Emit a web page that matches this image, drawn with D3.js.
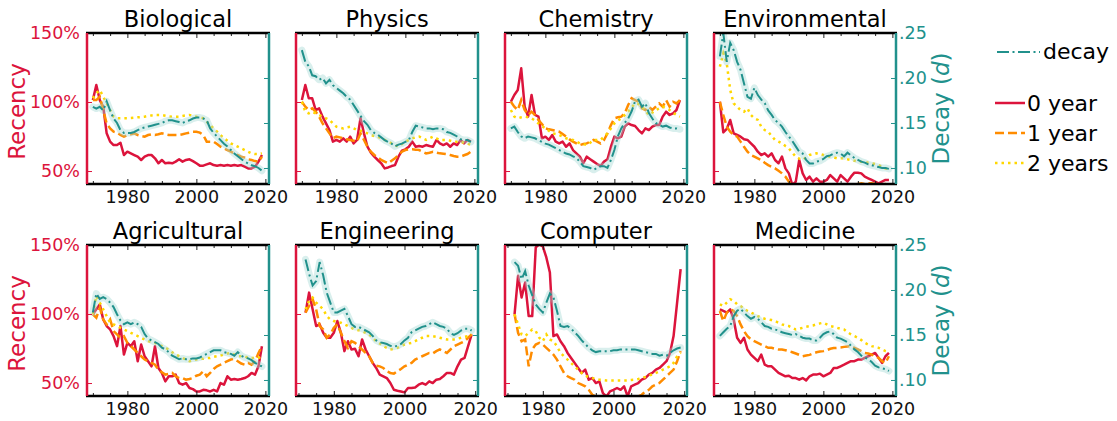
<!DOCTYPE html>
<html>
<head>
<meta charset="utf-8">
<script src="https://cdn.jsdelivr.net/npm/d3@7/dist/d3.min.js"></script>
<style>
  body { margin: 0; background: #fff; }
  text { font-family: "DejaVu Sans", sans-serif; }
</style>
</head>
<body>
<script>
// fields, in panel order (4 per row)
var fields = ["Biological", "Physics", "Chemistry", "Environmental",
              "Agricultural", "Engineering", "Computer", "Medicine"];

// first year of each field's series (all end in 2019)
var startYear = {
  Biological: 1970, Physics: 1970, Chemistry: 1970, Environmental: 1970,
  Agricultural: 1970, Engineering: 1972, Computer: 1972, Medicine: 1970
};

// recency (%) for references 0 year old
var zeroYear = {
  Biological: [101.4,112.3,101.4,96.6,77.3,71.3,68.8,68.8,70.5,61.6, 64.0,62.8,61.6,60.4,58.0,60.4,61.6,61.6,59.2,55.6, 58.0,55.6,56.0,55.6,56.8,58.5,56.8,58.0,58.5,57.2, 55.6,53.9,53.9,54.8,55.6,54.3,53.9,54.3,53.9,54.3, 53.9,54.3,53.9,54.3,53.1,51.9,51.9,53.1,56.8,61.6],
  Physics: [101.4,112.3,102.7,102.7,94.2,95.4,89.4,84.5,79.7,71.3, 72.5,71.3,73.7,71.3,74.9,70.0,72.5,88.2,77.3,67.6, 63.3,60.4,58.0,55.6,51.9,52.6,53.6,54.3,60.4,64.7, 65.7,67.6,71.3,67.6,68.1,67.6,68.8,68.1,67.6,72.5, 70.0,68.8,70.0,67.6,70.0,68.8,72.5,70.0,72.5,71.3],
  Chemistry: [100.2,105.1,108.7,124.4,96.6,89.4,105.1,90.6,89.4,73.7, 74.9,72.5,76.1,71.3,70.0,71.3,67.6,70.0,65.2,62.8, 60.4,55.6,60.4,58.5,56.8,55.1,53.6,56.8,58.5,67.6, 74.9,73.7,74.9,82.1,84.5,83.3,82.6,79.7,77.3,80.9, 79.7,82.1,83.3,83.3,89.4,93.0,90.6,91.8,94.2,101.4],
  Environmental: [100.2,78.0,80.5,87.0,77.3,76.1,74.9,73.0,72.5,70.0, 67.6,64.0,61.6,62.8,60.4,62.8,58.0,55.6,60.4,51.9, 48.3,39.9,42.3,58.0,48.3,43.5,45.9,42.3,44.7,42.3, 42.3,43.5,47.1,44.7,42.3,47.1,44.7,42.3,45.9,48.8, 48.8,48.3,45.9,44.7,43.5,42.3,41.1,42.3,43.5,43.5],
  Agricultural: [99.8,103.4,107.0,96.1,91.3,88.8,84.0,76.7,91.3,70.6, 79.1,76.7,80.3,65.8,77.9,69.4,65.8,62.1,76.7,60.9, 57.3,51.2,54.9,54.9,56.1,50.0,48.8,50.0,46.4,45.6, 43.9,43.9,45.1,44.7,43.9,45.1,43.9,50.0,48.8,54.9, 52.4,52.9,52.4,52.9,53.6,54.9,57.3,56.1,62.1,76.7],
  Engineering: [101.0,115.5,103.4,91.3,92.5,86.4,82.8,82.8, 86.4,94.9,86.4,73.1,80.3,74.3,74.8,69.4,81.6,74.3, 69.4,64.6,60.9,56.1,54.9,53.6,50.0,45.1,44.4,43.9, 43.2,46.4,46.4,46.8,48.8,50.0,48.8,51.2,50.0,52.4, 52.9,54.9,57.3,57.3,56.1,62.1,67.0,68.2,76.7,85.2],
  Computer: [99.8,127.7,111.9,122.8,98.5,98.5,148.3,150.5, 149.0,141.0,130.1,84.0,85.2,80.3,76.7,71.8,68.2,64.6, 60.9,57.3,59.7,52.4,53.6,50.0,51.2,42.7,40.3,43.9, 45.1,46.4,45.1,47.6,40.3,47.6,48.8,50.0,52.4,53.6, 56.1,57.3,59.7,60.9,63.3,65.8,71.8,84.0,108.3,132.5],
  Medicine: [103.4,102.2,101.0,103.4,96.1,82.8,79.1,82.8,74.3,70.6, 68.2,65.8,70.6,63.3,62.1,62.1,59.7,57.3,56.1,54.9, 55.3,53.6,53.6,52.4,53.6,51.9,54.9,56.1,56.1,56.8, 54.9,56.1,57.3,60.9,60.9,62.1,63.3,64.6,65.8,65.8, 67.0,67.0,68.2,69.4,70.6,71.8,68.2,64.6,69.4,71.8]
};

// recency (%) for references 1 year old
var oneYear = {
  Biological: [101.4,101.4,103.9,94.2,84.5,80.9,78.5,77.8,76.1,74.9, 76.1,76.6,77.3,76.1,75.4,74.9,76.1,76.6,76.1,76.6, 77.3,76.6,76.1,76.1,76.1,76.1,76.6,77.3,77.8,78.5, 78.5,77.8,76.1,71.3,71.3,71.3,69.6,67.6,66.4,65.2, 64.0,62.8,61.6,60.4,59.7,58.5,58.0,57.2,56.8,60.4],
  Physics: [100.2,96.6,94.2,95.4,93.0,89.4,84.5,80.9,77.3,73.7, 74.9,74.4,73.7,73.0,72.5,72.0,71.3,77.3,72.5,67.6, 64.0,61.6,59.9,58.0,56.8,55.6,57.5,59.2,61.6,64.0, 65.2,65.7,65.7,65.5,65.2,64.0,62.8,63.3,64.0,63.3, 62.8,62.6,62.3,61.6,60.9,60.4,60.4,61.4,62.3,64.0],
  Chemistry: [100.2,96.6,94.2,101.4,94.2,90.6,93.0,90.6,87.0,84.1, 80.9,80.2,79.7,79.2,78.5,76.8,74.9,72.9,71.3,70.0, 68.8,69.6,70.0,71.3,72.5,71.3,70.0,72.5,77.3,83.3, 88.2,88.9,89.4,91.8,97.8,102.7,101.4,100.2,95.4,94.2, 96.6,94.2,96.6,99.0,96.6,101.4,96.6,100.2,99.0,101.4],
  Environmental: [100.2,90.6,82.1,78.5,76.1,74.9,71.3,67.6,64.0,61.6, 60.4,59.2,58.0,56.0,54.3,53.1,51.9,50.2,48.3,45.9, 42.3,38.6,37.4,37.4,37.4,38.6,38.2,37.4,37.4,38.2, 38.6,38.2,38.6,39.1,38.6,39.1,39.6,39.1,39.6,39.9, 40.6,41.1,40.6,41.1,41.1,40.6,39.9,40.3,40.6,39.9],
  Agricultural: [99.8,97.3,104.6,96.1,92.5,96.1,87.6,85.2,82.8,84.0, 79.1,76.7,74.3,71.8,69.4,67.0,65.8,64.6,63.3,59.7, 57.8,56.1,56.6,57.3,54.9,53.6,53.6,52.4,52.9,53.6, 55.3,56.1,58.5,54.9,57.3,60.2,62.1,63.3,64.6,65.8, 67.0,67.5,65.8,64.1,63.3,64.6,63.3,65.8,71.8,76.7],
  Engineering: [101.0,105.8,110.7,103.4,91.3,88.8,82.8,85.2, 90.0,92.5,86.4,80.3,75.5,80.3,79.1,76.7,74.3,71.8, 69.4,64.6,62.6,62.1,60.9,58.5,57.3,56.8,58.5,60.2, 62.1,63.3,64.6,67.0,68.2,69.4,70.6,71.8,71.4,73.1, 74.3,73.1,71.8,74.3,76.7,77.9,79.1,80.3,82.8,85.2],
  Computer: [99.8,86.4,80.3,81.6,62.1,74.3,77.9,79.1, 77.9,75.5,73.1,70.6,67.0,62.1,57.3,54.9,53.6,52.4, 50.0,48.8,47.6,45.1,41.5,40.3,39.1,38.3,37.9,37.9, 37.9,37.9,37.9,38.3,38.8,39.3,39.8,40.3,41.5,43.9, 45.1,47.6,48.8,50.0,52.4,54.9,57.3,59.7,65.8,73.1],
  Medicine: [102.2,94.9,101.0,103.4,102.2,98.5,92.5,87.6,84.0,81.6, 80.3,79.1,77.9,76.7,75.5,75.5,74.8,74.3,74.3,73.8, 73.1,72.3,71.4,70.4,69.4,69.9,70.4,71.4,72.3,72.8, 73.1,73.8,74.8,75.3,75.5,75.7,76.2,76.5,76.7,75.5, 74.3,73.1,71.8,71.4,70.6,69.4,68.2,65.8,64.6,69.4]
};

// recency (%) for references 2 years old
var twoYears = {
  Biological: [102.7,106.3,108.7,103.9,99.0,94.2,89.4,88.2,88.2,88.2, 88.2,88.4,88.6,88.9,89.1,89.4,89.9,90.3,90.6,90.6, 90.6,90.1,89.6,89.4,89.4,89.4,89.9,90.3,90.6,90.1, 89.4,88.9,88.2,85.7,83.3,80.9,78.5,76.1,73.7,72.0, 70.0,68.8,67.6,66.4,65.2,64.0,62.8,62.3,62.3,62.8],
  Physics: [100.2,93.0,91.8,93.0,91.8,90.6,89.4,88.2,87.0,84.5, 82.1,81.4,80.9,81.6,82.1,80.9,79.7,79.2,78.5,77.3, 76.1,75.4,74.9,73.7,72.5,71.3,70.0,68.8,67.6,69.6, 71.3,72.5,73.7,74.4,74.9,73.7,72.5,73.7,74.9,73.7, 72.5,72.5,72.5,72.0,71.3,71.3,71.3,70.5,70.0,68.8],
  Chemistry: [94.2,89.4,88.2,88.9,89.4,88.9,88.2,86.5,84.5,82.6, 80.9,79.2,77.3,76.8,76.1,74.9,73.7,73.0,72.5,71.3, 70.0,69.6,68.8,70.5,72.5,72.5,72.5,74.9,77.3,80.9, 84.5,86.5,88.2,90.6,93.0,96.1,99.0,98.5,96.6,93.7, 90.6,92.3,94.2,95.4,96.6,95.4,94.2,92.3,90.6,89.4],
  Environmental: [125.6,135.3,128.0,108.7,99.0,96.6,94.2,93.0,95.4,90.6, 88.2,87.0,82.1,79.7,78.5,75.4,72.5,71.3,70.0,68.1, 66.4,63.3,60.4,59.0,58.0,59.9,61.6,62.3,62.8,62.3, 61.6,60.9,60.4,59.9,59.2,59.2,59.2,58.5,58.0,57.5, 56.8,56.8,56.8,56.0,55.6,55.1,54.3,53.1,51.9,51.9],
  Agricultural: [99.8,113.1,108.3,103.4,98.5,93.7,92.5,91.3,90.0,88.8, 87.6,86.4,85.2,84.0,82.8,81.6,80.3,79.6,79.1,77.9, 76.7,75.5,74.3,72.3,70.6,69.4,68.2,67.0,65.8,66.5, 67.0,67.5,67.5,68.0,68.2,68.9,69.4,69.9,70.6,71.4, 71.8,70.6,69.4,69.4,69.4,68.2,68.2,68.2,68.2,69.4],
  Engineering: [103.4,109.5,111.9,108.3,105.8,103.4,98.5,96.1, 94.9,94.2,93.7,92.5,91.3,90.0,88.8,88.3,87.6,86.4, 85.2,82.8,80.3,78.6,76.7,75.5,74.3,74.8,75.5,76.7, 77.9,78.6,79.1,80.3,81.6,82.8,84.0,84.0,84.0,83.5, 82.8,82.1,81.6,81.6,81.6,82.1,82.8,83.5,84.0,85.2],
  Computer: [99.8,92.5,85.2,84.0,86.4,88.8,87.6,82.8, 80.3,85.2,81.6,80.3,76.7,71.8,69.4,67.0,64.6,62.1, 59.7,57.3,55.3,54.4,53.6,52.9,52.4,52.2,51.9,51.9, 51.9,51.9,51.9,51.9,51.9,52.2,52.4,52.9,53.6,54.4, 55.3,56.3,57.3,58.5,59.7,60.9,62.1,64.6,69.4,71.8],
  Medicine: [107.0,105.8,108.3,110.7,109.5,107.0,105.8,103.9,102.2,101.0, 99.8,98.5,97.3,96.6,96.1,95.6,94.9,93.7,92.5,91.7, 91.3,90.0,88.8,89.3,90.0,90.8,91.3,91.7,92.5,93.2, 93.7,92.5,91.3,90.8,90.0,89.3,88.8,86.9,85.2,84.0, 82.8,81.1,79.1,77.9,76.7,76.2,75.5,74.3,73.1,72.3]
};

// decay d (right axis)
var decay = {
  Biological: [.168,.166,.168,.164,.174,.164,.155,.150,.142,.139, .139,.139,.140,.142,.144,.145,.146,.147,.148,.149, .150,.152,.153,.153,.152,.151,.150,.152,.153,.155, .156,.156,.155,.153,.144,.139,.135,.131,.127,.124, .120,.116,.113,.110,.107,.105,.103,.102,.100,.097],
  Physics: [.231,.218,.213,.203,.202,.198,.200,.194,.198,.192, .189,.186,.183,.179,.176,.170,.164,.158,.152,.148, .142,.139,.137,.134,.131,.129,.127,.124,.126,.127, .129,.131,.140,.147,.146,.145,.144,.144,.143,.144, .144,.143,.140,.139,.137,.135,.132,.131,.131,.129],
  Chemistry: [.144,.146,.140,.135,.133,.135,.134,.133,.131,.129, .127,.126,.124,.122,.120,.118,.116,.115,.113,.111, .107,.102,.101,.100,.098,.100,.102,.102,.100,.109, .120,.135,.144,.150,.155,.163,.174,.176,.168,.172, .161,.155,.150,.148,.146,.147,.145,.144,.144,.143],
  Environmental: [.224,.250,.218,.239,.231,.218,.209,.194,.179,.177, .189,.181,.176,.172,.164,.159,.153,.150,.146,.140, .135,.130,.124,.118,.116,.109,.105,.105,.107,.108, .110,.113,.114,.116,.117,.116,.113,.117,.114,.111, .109,.107,.106,.104,.103,.102,.101,.100,.100,.099],
  Agricultural: [.175,.196,.190,.192,.190,.186,.181,.173,.166,.162, .164,.162,.164,.162,.159,.151,.146,.144,.142,.140, .136,.134,.131,.127,.125,.123,.124,.123,.123,.124, .124,.125,.127,.129,.131,.133,.133,.133,.131,.130, .129,.127,.131,.127,.125,.124,.122,.119,.117,.115],
  Engineering: [.234,.218,.205,.210,.231,.216,.197,.186, .175,.175,.177,.179,.171,.162,.159,.159,.157,.155, .153,.149,.144,.142,.141,.140,.138,.137,.138,.140, .144,.147,.153,.155,.157,.159,.160,.162,.164,.162, .160,.159,.157,.152,.150,.152,.155,.157,.157,.155],
  Computer: [.231,.227,.212,.221,.205,.194,.184,.179, .175,.186,.196,.192,.177,.160,.159,.160,.157,.153, .149,.144,.140,.136,.133,.131,.132,.132,.132,.132, .133,.133,.134,.134,.134,.134,.134,.133,.132,.131, .130,.129,.129,.127,.128,.127,.130,.133,.135,.136],
  Medicine: [.149,.153,.157,.160,.171,.177,.179,.175,.171,.168, .170,.168,.164,.160,.159,.157,.156,.155,.153,.152, .151,.150,.151,.149,.147,.146,.146,.144,.144,.147, .151,.153,.154,.151,.147,.146,.144,.142,.138,.134, .131,.127,.125,.123,.120,.116,.114,.113,.112,.110]
};

var recencyTicks = [50, 100, 150];
var decayTicks = [0.10, 0.15, 0.20, 0.25];
var yearMajor = [1980, 2000, 2020];
var yearMinor = [1970, 1975, 1985, 1990, 1995, 2005, 2010, 2015];

var red = "#dc143c", orange = "#ff8c00", gold = "#ffd700", teal = "#21918c";

var width = 1117, height = 421;
var pw = 182, ph = 151;
var tickFont = 17.5;

var svg = d3.select("body").append("svg")
    .attr("width", width)
    .attr("height", height);

var defs = svg.append("defs");

fields.forEach(function(f, i) {
    var col = i % 4, row = Math.floor(i / 4);
    var left = 87 + col * 209, top = 33 + row * 212;
    var first = startYear[f];
    var yrs = d3.range(first, first + zeroYear[f].length);

    // the two later-starting fields have a slightly shifted x range
    var x = d3.scaleLinear()
        .domain(first === 1972 ? [1969.3, 2020.8] : [1968.3, 2021.05])
        .range([left, left + pw]);
    var yR = d3.scaleLinear().domain([40.6, 150]).range([top + ph, top]);
    var yD = d3.scaleLinear().domain([0.0822, 0.25]).range([top + ph, top]);

    defs.append("clipPath").attr("id", "clip" + i)
      .append("rect")
        .attr("x", left).attr("y", top)
        .attr("width", pw).attr("height", ph);

    var g = svg.append("g");
    var plot = g.append("g").attr("clip-path", "url(#clip" + i + ")");

    var lineR = d3.line()
        .x(function(d, j) { return x(yrs[j]); })
        .y(function(d) { return yR(d); });
    var lineD = d3.line()
        .x(function(d, j) { return x(yrs[j]); })
        .y(function(d) { return yD(d); });

    // recency lines
    plot.append("path").datum(zeroYear[f])
        .attr("d", lineR)
        .attr("fill", "none").attr("stroke", red)
        .attr("stroke-width", 2.5).attr("stroke-linejoin", "round");
    plot.append("path").datum(oneYear[f])
        .attr("d", lineR)
        .attr("fill", "none").attr("stroke", orange)
        .attr("stroke-width", 2.5).attr("stroke-dasharray", "9,4");
    plot.append("path").datum(twoYears[f])
        .attr("d", lineR)
        .attr("fill", "none").attr("stroke", gold)
        .attr("stroke-width", 2.5).attr("stroke-dasharray", "2.5,4");

    // decay: light band then dash-dot line
    plot.append("path").datum(decay[f])
        .attr("d", lineD)
        .attr("fill", "none").attr("stroke", "#9fd6d3")
        .attr("stroke-opacity", 0.4)
        .attr("stroke-width", 7).attr("stroke-linejoin", "round")
        .attr("stroke-linecap", "round");
    plot.append("path").datum(decay[f])
        .attr("d", lineD)
        .attr("fill", "none").attr("stroke", teal)
        .attr("stroke-width", 2).attr("stroke-dasharray", "12,3.5,2,3.5");

    // x ticks (inward, top and bottom)
    var axB = g.append("g").attr("transform", "translate(0," + (top + ph) + ")")
        .call(d3.axisBottom(x).tickValues(yearMajor).tickFormat(d3.format("d"))
            .tickSizeInner(-5).tickSizeOuter(0).tickPadding(7));
    var axBm = g.append("g").attr("transform", "translate(0," + (top + ph) + ")")
        .call(d3.axisBottom(x).tickValues(yearMinor).tickFormat("")
            .tickSizeInner(-3).tickSizeOuter(0));
    var axT = g.append("g").attr("transform", "translate(0," + top + ")")
        .call(d3.axisTop(x).tickValues(yearMajor).tickFormat("")
            .tickSizeInner(-5).tickSizeOuter(0));
    var axTm = g.append("g").attr("transform", "translate(0," + top + ")")
        .call(d3.axisTop(x).tickValues(yearMinor).tickFormat("")
            .tickSizeInner(-3).tickSizeOuter(0));
    [axB, axBm, axT, axTm].forEach(function(a) {
        a.select(".domain").remove();
        a.selectAll("line").attr("stroke", "#222").attr("stroke-width", 1);
    });
    axB.selectAll("text")
        .attr("font-size", tickFont).attr("fill", "#111")
        .style("font-family", "'DejaVu Sans', sans-serif");

    // left (recency) axis
    var axL = g.append("g").attr("transform", "translate(" + left + ",0)")
        .call(d3.axisLeft(yR).tickValues(recencyTicks)
            .tickFormat(function(d) { return d + "%"; })
            .tickSizeInner(-5).tickSizeOuter(0).tickPadding(7));
    axL.select(".domain").remove();
    axL.selectAll("line").attr("stroke", red).attr("stroke-width", 1);
    axL.selectAll("text")
        .attr("font-size", tickFont).attr("fill", red)
        .style("font-family", "'DejaVu Sans', sans-serif")
        .style("display", col === 0 ? null : "none");

    // right (decay) axis
    var axR = g.append("g").attr("transform", "translate(" + (left + pw) + ",0)")
        .call(d3.axisRight(yD).tickValues(decayTicks)
            .tickFormat(function(d) { return d3.format(".2f")(d).replace(/^0/, ""); })
            .tickSizeInner(-5).tickSizeOuter(0).tickPadding(3));
    axR.select(".domain").remove();
    axR.selectAll("line").attr("stroke", teal).attr("stroke-width", 1);
    axR.selectAll("text")
        .attr("font-size", tickFont).attr("fill", teal)
        .style("font-family", "'DejaVu Sans', sans-serif")
        .style("display", col === 3 ? null : "none");

    // spines
    g.append("line").attr("x1", left - 1).attr("x2", left + pw + 1)
        .attr("y1", top).attr("y2", top)
        .attr("stroke", "#000").attr("stroke-width", 2.5);
    g.append("line").attr("x1", left - 1).attr("x2", left + pw + 1)
        .attr("y1", top + ph).attr("y2", top + ph)
        .attr("stroke", "#000").attr("stroke-width", 2.5);
    g.append("line").attr("x1", left).attr("x2", left)
        .attr("y1", top).attr("y2", top + ph)
        .attr("stroke", red).attr("stroke-width", 2.5);
    g.append("line").attr("x1", left + pw).attr("x2", left + pw)
        .attr("y1", top).attr("y2", top + ph)
        .attr("stroke", teal).attr("stroke-width", 2.5);

    // title
    g.append("text")
        .attr("x", left + pw / 2).attr("y", top - 6)
        .attr("text-anchor", "middle")
        .attr("font-size", 22.5).attr("fill", "#000")
        .text(f);

    if (col === 0) {
        g.append("text")
            .attr("transform", "translate(25," + (top + ph / 2 + 3) + ") rotate(-90)")
            .attr("text-anchor", "middle")
            .attr("font-size", 23).attr("fill", red)
            .text("Recency");
    }
    if (col === 3) {
        var dl = g.append("text")
            .attr("transform", "translate(949," + (top + ph / 2) + ") rotate(-90)")
            .attr("text-anchor", "middle")
            .attr("font-size", 23).attr("fill", teal);
        dl.append("tspan").text("Decay (");
        dl.append("tspan").attr("font-style", "italic").text("d");
        dl.append("tspan").text(")");
    }
});

// legend
var legend = svg.append("g");
legend.append("line")
    .attr("x1", 997).attr("x2", 1040).attr("y1", 52).attr("y2", 52)
    .attr("stroke", teal).attr("stroke-width", 2)
    .attr("stroke-dasharray", "12,3.5,2,3.5");
legend.append("text").attr("x", 1043).attr("y", 59)
    .attr("font-size", 22).text("decay");

var legendItems = [
    { label: "0 year", color: red, dash: null, y: 103 },
    { label: "1 year", color: orange, dash: "9,4", y: 133 },
    { label: "2 years", color: gold, dash: "2.5,4", y: 163 }
];
legendItems.forEach(function(d) {
    legend.append("line")
        .attr("x1", 995).attr("x2", 1025).attr("y1", d.y).attr("y2", d.y)
        .attr("stroke", d.color).attr("stroke-width", 2.5)
        .attr("stroke-dasharray", d.dash);
    legend.append("text").attr("x", 1027).attr("y", d.y + 8)
        .attr("font-size", 22).text(d.label);
});
</script>
</body>
</html>
